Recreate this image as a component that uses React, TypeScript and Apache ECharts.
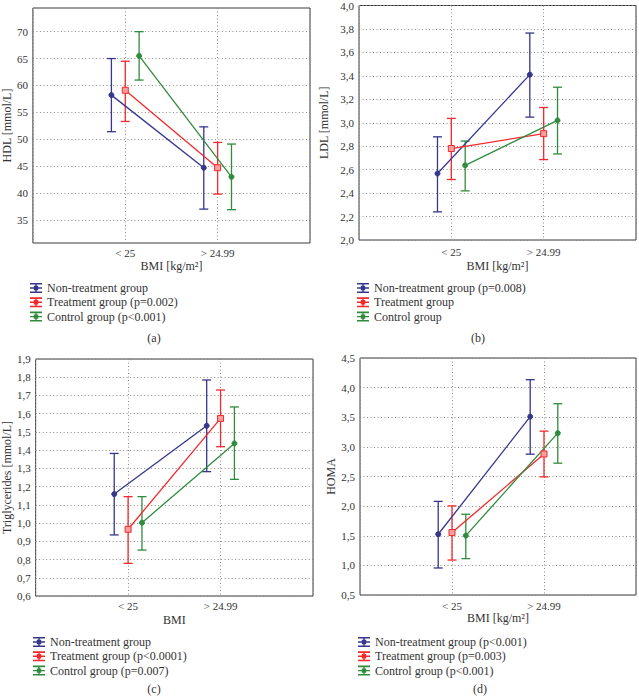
import React, { useEffect, useRef } from 'react';
import * as echarts from 'echarts';

// ---------- data ----------
const categories = ['< 25', '> 24.99'];
const groupColors = ['#35368c', '#f2282b', '#2f8c3d'];
const groupFill = ['#35368c', '#f7a0a0', '#2f8c3d'];
const groupSymbols = ['circle', 'rect', 'circle'];
const groupOffsets = [-0.15, 0, 0.15];

// (a) HDL
const hdlMeans = [[58.2, 44.7], [59.1, 44.7], [65.5, 43.0]];
const hdlLow = [[51.4, 37.0], [53.3, 39.8], [61.0, 36.9]];
const hdlHigh = [[65.0, 52.3], [64.5, 49.4], [70.0, 49.1]];
const hdlTicks = [35, 40, 45, 50, 55, 60, 65, 70];
const hdlLegend = ['Non-treatment group', 'Treatment group (p=0.002)', 'Control group (p<0.001)'];

// (b) LDL
const ldlMeans = [[2.567, 3.41], [2.78, 2.907], [2.637, 3.02]];
const ldlLow = [[2.24, 3.048], [2.516, 2.686], [2.419, 2.734]];
const ldlHigh = [[2.88, 3.765], [3.037, 3.13], [2.844, 3.303]];
const ldlTicks = [2.0, 2.2, 2.4, 2.6, 2.8, 3.0, 3.2, 3.4, 3.6, 3.8, 4.0];
const ldlLegend = ['Non-treatment group (p=0.008)', 'Treatment group', 'Control group'];

// (c) Triglycerides
const tgMeans = [[1.159, 1.534], [0.966, 1.574], [1.002, 1.437]];
const tgLow = [[0.935, 1.282], [0.779, 1.419], [0.852, 1.24]];
const tgHigh = [[1.382, 1.785], [1.145, 1.73], [1.145, 1.637]];
const tgTicks = [0.6, 0.7, 0.8, 0.9, 1.0, 1.1, 1.2, 1.3, 1.4, 1.5, 1.6, 1.7, 1.8, 1.9];
const tgLegend = ['Non-treatment group', 'Treatment group (p<0.0001)', 'Control group (p=0.007)'];

// (d) HOMA
const homaMeans = [[1.525, 3.51], [1.554, 2.88], [1.503, 3.232]];
const homaLow = [[0.956, 2.877], [1.09, 2.494], [1.114, 2.725]];
const homaHigh = [[2.08, 4.134], [2.004, 3.266], [1.863, 3.728]];
const homaTicks = [0.5, 1.0, 1.5, 2.0, 2.5, 3.0, 3.5, 4.0, 4.5];
const homaLegend = ['Non-treatment group (p<0.001)', 'Treatment group (p=0.003)', 'Control group (p<0.001)'];

const panels = [
  { tag: '(a)', yName: 'HDL [mmol/L]', xName: 'BMI [kg/m²]', means: hdlMeans, low: hdlLow, high: hdlHigh, ticks: hdlTicks, yMin: 30.7, yMax: 74.4, legend: hdlLegend, decimals: 0 },
  { tag: '(b)', yName: 'LDL [mmol/L]', xName: 'BMI [kg/m²]', means: ldlMeans, low: ldlLow, high: ldlHigh, ticks: ldlTicks, yMin: 2.0, yMax: 4.0, legend: ldlLegend, decimals: 1 },
  { tag: '(c)', yName: 'Triglycerides [mmol/L]', xName: 'BMI', means: tgMeans, low: tgLow, high: tgHigh, ticks: tgTicks, yMin: 0.6, yMax: 1.9, legend: tgLegend, decimals: 1 },
  { tag: '(d)', yName: 'HOMA', xName: 'BMI [kg/m²]', means: homaMeans, low: homaLow, high: homaHigh, ticks: homaTicks, yMin: 0.5, yMax: 4.5, legend: homaLegend, decimals: 1 },
];

// ---------- layout ----------
const layout = [
  { grid: { left: 32, top: 8, width: 278, height: 235 }, yGap: 19, xLabelMargin: 4, xGap: 17, legend: { left: 30, top: 282 }, tag: [154, 338] },
  { grid: { left: 359, top: 5, width: 278, height: 235 }, yGap: 29, xLabelMargin: 6, xGap: 20, legend: { left: 357, top: 282 }, tag: [478, 338] },
  { grid: { left: 35, top: 359, width: 278, height: 237 }, yGap: 22, xLabelMargin: 4, xGap: 18, legend: { left: 33, top: 636 }, tag: [154, 689] },
  { grid: { left: 360, top: 358, width: 277, height: 237 }, yGap: 22, xLabelMargin: 5, xGap: 17, legend: { left: 358, top: 636 }, tag: [480, 689] },
];

const FONT = '"Liberation Serif", "DejaVu Serif", serif';
const TEXT = '#333';
const legendIcon =
  'path://M0,0H12V1.6H0Z M0,8.4H12V10H0Z M5.3,0H6.7V10H5.3Z M0,4.3H12V5.7H0Z M3.8,2.8H8.2V7.2H3.8Z';

function buildOption() {
  const grid: any[] = [];
  const xAxis: any[] = [];
  const yAxis: any[] = [];
  const series: any[] = [];
  const legend: any[] = [];
  const graphic: any[] = [];
  const dotted = { color: '#8a8a8a', width: 1, type: [1, 2.5] };

  panels.forEach((p, i) => {
    const L = layout[i];
    grid.push({ ...L.grid, show: true, borderColor: '#3a3a3a', borderWidth: 1, containLabel: false });
    xAxis.push({
      type: 'value', gridIndex: i, min: 0, max: 3, interval: 1,
      name: p.xName, nameLocation: 'middle', nameGap: L.xGap,
      nameTextStyle: { fontFamily: FONT, fontSize: 12, color: TEXT },
      axisLine: { show: false }, axisTick: { show: false },
      axisLabel: {
        margin: L.xLabelMargin, fontFamily: FONT, fontSize: 11, color: TEXT,
        formatter: (v: number) => (v >= 1 && v <= 2 ? categories[Math.round(v) - 1] : ''),
      },
      splitLine: { show: true, lineStyle: dotted },
    });
    yAxis.push({
      type: 'value', gridIndex: i, min: p.yMin, max: p.yMax,
      name: p.yName, nameLocation: 'middle', nameGap: L.yGap,
      nameTextStyle: { fontFamily: FONT, fontSize: 12, color: TEXT },
      axisLine: { show: false },
      axisTick: { show: false, customValues: p.ticks },
      axisLabel: {
        customValues: p.ticks, margin: 5, fontFamily: FONT, fontSize: 11, color: TEXT,
        formatter: (v: number) => v.toFixed(p.decimals).replace('.', ','),
      },
      splitLine: { show: true, lineStyle: dotted },
    });

    // error bars (these carry the legend names)
    for (let g = 0; g < 3; g++) {
      const color = groupColors[g];
      series.push({
        type: 'custom', name: p.legend[g], xAxisIndex: i, yAxisIndex: i, z: 2,
        itemStyle: { color },
        data: categories.map((_, c) => [c + 1 + groupOffsets[g], p.low[g][c], p.high[g][c]]),
        encode: { x: 0, y: [1, 2] },
        renderItem: (params: any, api: any) => {
          const x = api.value(0);
          const a = api.coord([x, api.value(1)]);
          const b = api.coord([x, api.value(2)]);
          const hw = 4.5;
          const style = { stroke: color, lineWidth: 1.3, fill: null };
          return {
            type: 'group',
            children: [
              { type: 'line', shape: { x1: a[0], y1: a[1], x2: b[0], y2: b[1] }, style },
              { type: 'line', shape: { x1: a[0] - hw, y1: a[1], x2: a[0] + hw, y2: a[1] }, style },
              { type: 'line', shape: { x1: b[0] - hw, y1: b[1], x2: b[0] + hw, y2: b[1] }, style },
            ],
          };
        },
      });
    }
    // mean lines
    for (let g = 0; g < 3; g++) {
      series.push({
        type: 'line', name: `mean-${i}-${g}`, xAxisIndex: i, yAxisIndex: i, z: 3,
        data: categories.map((_, c) => [c + 1 + groupOffsets[g], p.means[g][c]]),
        symbol: groupSymbols[g], symbolSize: g === 1 ? 6 : 5, showSymbol: true,
        lineStyle: { color: groupColors[g], width: 1.3 },
        itemStyle: { color: groupFill[g], borderColor: groupColors[g], borderWidth: 1 },
      });
    }
    legend.push({
      orient: 'vertical', left: L.legend.left, top: L.legend.top,
      data: p.legend.map((n) => ({ name: n, icon: legendIcon })),
      itemWidth: 12, itemHeight: 10, itemGap: 2.3, padding: 0, selectedMode: false,
      textStyle: { fontFamily: FONT, fontSize: 12, color: TEXT, lineHeight: 12 },
    });
    graphic.push({
      type: 'text', x: L.tag[0], y: L.tag[1],
      style: { text: p.tag, align: 'center', verticalAlign: 'middle', font: `12px ${FONT}`, fill: TEXT },
    });
  });

  return { animation: false, backgroundColor: '#fff', grid, xAxis, yAxis, series, legend, graphic };
}

export default function App() {
  const ref = useRef<HTMLDivElement>(null);
  useEffect(() => {
    if (!ref.current) return;
    const chart = echarts.init(ref.current, undefined, { renderer: 'svg' });
    chart.setOption(buildOption() as any);
    return () => chart.dispose();
  }, []);
  return (
    <div
      ref={ref}
      style={{ position: 'absolute', left: 0, top: 0, width: 639, height: 696, background: '#fff' }}
    />
  );
}
